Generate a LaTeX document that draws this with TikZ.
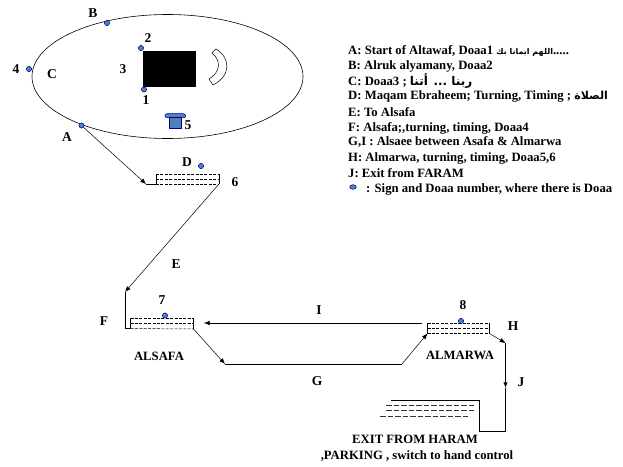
\documentclass[tikz,border=0pt]{standalone}
\usepackage{fontspec}
\setmainfont{Liberation Serif}
\newfontfamily\arabicfont[Script=Arabic]{DejaVu Sans}
\TeXXeTstate=1
\usetikzlibrary{arrows.meta, positioning, shapes.geometric}
\definecolor{signblue}{HTML}{4F81BD}
\newcommand{\arab}[2][9.5]{{\arabicfont\bfseries\fontsize{#1}{10}\selectfont\beginR #2\endR}}

\begin{document}
\begin{tikzpicture}[
  x=1pt, y=-1pt,
  lab/.style={inner sep=0pt, font=\fontsize{13.5}{14}\selectfont\bfseries},
  legend/.style={inner sep=0pt, anchor=west, font=\fontsize{12.7}{14}\selectfont\bfseries},
  sign/.style={circle, draw=blue!50!black, fill=signblue, inner sep=0pt, minimum size=5.2pt, line width=0.5pt},
  arr/.style={-{Latex[length=2mm,width=1.6mm]}, line width=0.5pt},
  route/.style={line width=1pt},
  stair/.style={dashed, dash pattern=on 3pt off 1.4pt, line width=0.5pt},
  exitstair/.style={dashed, dash pattern=on 5.5pt off 2pt, line width=0.6pt, draw=black!80}
]
  \useasboundingbox (0,0) rectangle (623,466);

  % circling area
  \node[draw, ellipse, minimum width=271pt, minimum height=124pt, inner sep=0pt, line width=0.6pt] (tawaf) at (167.5,76.5) {};
  \node[fill=black, inner sep=0pt, minimum width=53pt, minimum height=36pt] (kaaba) at (169.5,69) {};
  \draw[line width=0.5pt] (216,49) -- (212,53) .. controls (221,60) and (221,72) .. (209,79) -- (213,85) .. controls (231,76) and (231,58) .. cycle;
  \draw[draw=blue!50!black, fill=signblue, line width=0.5pt, rounded corners=1.5pt] (164.5,117.5) -- (165.5,113.5) -- (185,113.5) -- (186,117.5) -- cycle;
  \draw[draw=blue!50!black, fill=signblue, line width=0.5pt] (169.5,117.5) rectangle (181,128);

  \node[sign] (signB) at (107,23) {};
  \node[sign] (sign2) at (141,48) {};
  \node[sign] (sign4) at (29,69) {};
  \node[sign] (sign1) at (144,89.5) {};
  \node[sign] (signA) at (81.5,125.5) {};
  \node[sign] (signD) at (201,166) {};
  \node[sign] (sign7) at (165,315.5) {};
  \node[sign] (sign8) at (461,321) {};
  \node[sign, ellipse, minimum width=6.5pt, minimum height=4.6pt] (signKey) at (353,187) {};

  % steps
  \coordinate (maqamA) at (146,184);
  \coordinate (maqamB) at (156,184);
  \coordinate (maqamC) at (156,174);
  \coordinate (maqamD) at (219,174);
  \coordinate (maqamE) at (219,184);
  \draw[route] (maqamA) -- (maqamB) -- (maqamC);
  \draw[line width=0.8pt] (maqamD) -- (maqamE);
  \draw[stair] (maqamC) -- (maqamD);
  \draw[stair] (156,179) -- (219,179);
  \draw[stair] (maqamB) -- (maqamE);

  \coordinate (safaA) at (125,292);
  \coordinate (safaB) at (125,328.5);
  \coordinate (safaC) at (130.5,328.5);
  \coordinate (safaD) at (130.5,318);
  \coordinate (safaE) at (193.5,318);
  \coordinate (safaF) at (193.5,329);
  \draw[route] (safaA) -- (safaB) -- (safaC) -- (safaD);
  \draw[line width=0.8pt] (safaE) -- (safaF);
  \draw[stair] (safaD) -- (safaE);
  \draw[stair] (130.5,323) -- (193.5,323);
  \draw[stair] (safaC) -- (safaF);

  \coordinate (marwaA) at (427.5,333.5);
  \coordinate (marwaB) at (427.5,323);
  \coordinate (marwaC) at (489.5,323);
  \coordinate (marwaD) at (489.5,333.5);
  \draw[route] (marwaA) -- (marwaB);
  \draw[route] (marwaC) -- (marwaD);
  \draw[stair] (marwaB) -- (marwaC);
  \draw[stair] (427.5,328) -- (489.5,328);
  \draw[stair] (marwaA) -- (marwaD);

  % route
  \coordinate (iStart) at (422,323);
  \coordinate (iEnd) at (204,323);
  \coordinate (gA) at (225,364);
  \coordinate (gB) at (402,364);
  \coordinate (exitA) at (505.5,343);
  \coordinate (exitJ) at (505.5,388);
  \coordinate (exitB) at (505.5,431.5);
  \coordinate (exitC) at (479.5,431.5);
  \coordinate (exitD) at (479.5,400);
  \coordinate (exitE) at (391,400);
  \draw[arr] (signA) -- (maqamA);
  \draw[arr] (maqamE) -- (safaA);
  \draw[arr] (iStart) -- (iEnd);
  \draw[arr] (safaF) -- (gA);
  \draw[route] (gA) -- (gB);
  \draw[arr] (gB) -- (marwaA);
  \draw[arr] (marwaD) -- (exitA);
  \draw[-{Latex[length=2mm,width=1.6mm]}, route] (exitA) -- (exitJ);
  \draw[route] (exitJ) -- (exitB) -- (exitC) -- (exitD) -- (exitE);
  \draw[exitstair] (386,405.5) -- (475,405.5);
  \draw[exitstair] (386,410) -- (475,410);
  \draw[exitstair] (380,416) -- (470,416);

  % letters and numbers
  \node[lab] (labA) at (67,137) {A};
  \node[lab] (labB) at (93,13) {B};
  \node[lab] (labC) at (52,74) {C};
  \node[lab] (labD) at (187,162) {D};
  \node[lab] (labE) at (176,264) {E};
  \node[lab] (labF) at (104,321) {F};
  \node[lab] (labG) at (317,381) {G};
  \node[lab] (labH) at (513,326) {H};
  \node[lab] (labI) at (319,310) {I};
  \node[lab] (labJ) at (521,382) {J};
  \node[lab] (num1) at (146,100) {1};
  \node[lab] (num2) at (148,38) {2};
  \node[lab] (num3) at (123,69) {3};
  \node[lab] (num4) at (16,69) {4};
  \node[lab] (num5) at (188,125) {5};
  \node[lab] (num6) at (235,182) {6};
  \node[lab] (num7) at (162,300) {7};
  \node[lab] (num8) at (463,305) {8};
  \node[legend, anchor=center] (safa) at (159,356) {ALSAFA};
  \node[legend, anchor=center] (marwa) at (460,355) {ALMARWA};
  \node[legend, anchor=center] (exitOne) at (415,439) {EXIT FROM HARAM};
  \node[legend, anchor=center] (exitTwo) at (417,456) {,PARKING , switch to hand control};

  % key
  \node[legend] (keyA) at (348,51) {A: Start of Altawaf, Doaa1 \arab[8]{اللهم ايمانا بك}.....};
  \node[legend] (keyB) at (348,66) {B: Alruk alyamany, Doaa2};
  \node[legend] (keyC) at (348,81.5) {C: Doaa3 ; \arab[12]{ربنا ... أتنا}};
  \node[legend] (keyD) at (348,96.5) {D: Maqam Ebraheem; Turning, Timing ; \arab[11]{الصلاة}};
  \node[legend] (keyE) at (348,112.5) {E: To Alsafa};
  \node[legend] (keyF) at (348,128) {F: Alsafa;,turning, timing, Doaa4};
  \node[legend] (keyG) at (348,142.5) {G,I : Alsaee between Asafa \& Almarwa};
  \node[legend] (keyH) at (348,158) {H: Almarwa, turning, timing, Doaa5,6};
  \node[legend] (keyJ) at (348,173) {J: Exit from FARAM};
  \node[legend] (keySign) at (366,189) {: Sign and Doaa number, where there is Doaa};
\end{tikzpicture}
\end{document}
